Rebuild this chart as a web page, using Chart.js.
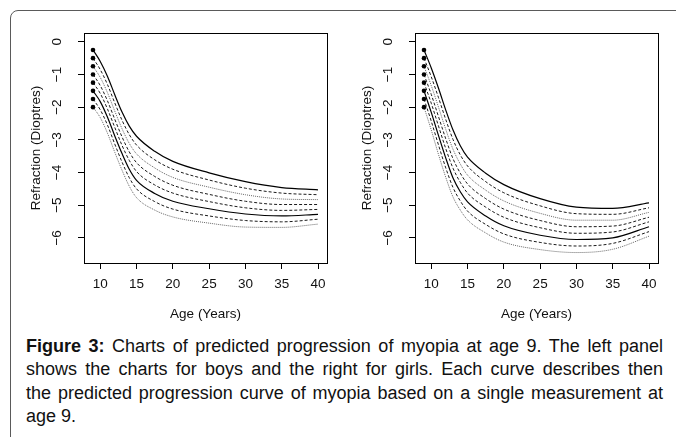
<!DOCTYPE html>
<html>
<head>
<meta charset="utf-8">
<script src="https://cdn.jsdelivr.net/npm/chart.js@4"></script>
<style>
html, body { margin: 0; padding: 0; background: #fff; width: 676px; height: 437px; overflow: hidden; }
#frame { position: absolute; left: 10px; top: 10px; width: 800px; height: 600px; border: 1.5px solid #5a5a5a; border-radius: 8px; }
canvas { position: absolute; top: 0; }
#boysChart { left: 0; }
#girlsChart { left: 331px; }
#caption { position: absolute; left: 26px; top: 335px; width: 637px; color: #111;
  font-family: "Liberation Sans", Arial, sans-serif;
  font-size: 18px; line-height: 23.3px; }
.ln { text-align: justify; text-align-last: justify; }
</style>
</head>
<body>
<div id="frame"></div>
<canvas id="boysChart" width="338" height="335"></canvas>
<canvas id="girlsChart" width="338" height="335"></canvas>
<div id="caption">
  <div class="ln"><b>Figure 3:</b> Charts of predicted progression of myopia at age 9. The left panel</div>
  <div class="ln">shows the charts for boys and the right for girls. Each curve describes then</div>
  <div class="ln">the predicted progression curve of myopia based on a single measurement at</div>
  <div>age 9.</div>
</div>
<script>
const ages = [9, 10, 11, 12, 13, 14, 15, 17.5, 20, 25, 30, 35, 40];
const xTicks = [10, 15, 20, 25, 30, 35, 40];
const yTicks = [0, -1, -2, -3, -4, -5, -6];

// boys, one curve per starting refraction at age 9
const boys025 = [-0.25, -0.60, -1.06, -1.62, -2.15, -2.58, -2.89, -3.35, -3.66, -4.01, -4.28, -4.46, -4.53];
const boys050 = [-0.50, -0.85, -1.31, -1.87, -2.40, -2.84, -3.16, -3.61, -3.90, -4.23, -4.48, -4.63, -4.68];
const boys075 = [-0.75, -1.09, -1.56, -2.12, -2.66, -3.11, -3.43, -3.86, -4.15, -4.45, -4.68, -4.81, -4.83];
const boys100 = [-1.00, -1.34, -1.81, -2.37, -2.91, -3.37, -3.70, -4.12, -4.39, -4.67, -4.88, -4.98, -4.98];
const boys125 = [-1.25, -1.58, -2.06, -2.62, -3.17, -3.63, -3.97, -4.38, -4.63, -4.89, -5.08, -5.16, -5.13];
const boys150 = [-1.50, -1.83, -2.31, -2.88, -3.42, -3.90, -4.24, -4.64, -4.88, -5.11, -5.27, -5.33, -5.28];
const boys175 = [-1.75, -2.08, -2.55, -3.13, -3.68, -4.16, -4.50, -4.89, -5.12, -5.33, -5.47, -5.51, -5.43];
const boys200 = [-2.00, -2.32, -2.80, -3.38, -3.93, -4.42, -4.77, -5.15, -5.36, -5.55, -5.67, -5.68, -5.58];

// girls
const girls025 = [-0.25, -0.80, -1.42, -2.09, -2.70, -3.18, -3.53, -4.02, -4.37, -4.80, -5.06, -5.10, -4.93];
const girls050 = [-0.50, -1.07, -1.71, -2.38, -2.99, -3.46, -3.80, -4.28, -4.62, -5.02, -5.26, -5.28, -5.08];
const girls075 = [-0.75, -1.34, -2.00, -2.68, -3.29, -3.74, -4.08, -4.54, -4.87, -5.25, -5.46, -5.46, -5.22];
const girls100 = [-1.00, -1.61, -2.29, -2.97, -3.58, -4.02, -4.35, -4.80, -5.12, -5.47, -5.66, -5.64, -5.37];
const girls125 = [-1.25, -1.88, -2.58, -3.27, -3.87, -4.30, -4.63, -5.06, -5.37, -5.69, -5.86, -5.82, -5.51];
const girls150 = [-1.50, -2.16, -2.87, -3.56, -4.17, -4.59, -4.90, -5.33, -5.63, -5.92, -6.05, -6.00, -5.66];
const girls175 = [-1.75, -2.43, -3.16, -3.86, -4.46, -4.87, -5.18, -5.59, -5.88, -6.14, -6.25, -6.17, -5.81];
const girls200 = [-2.00, -2.70, -3.45, -4.15, -4.75, -5.15, -5.45, -5.85, -6.13, -6.36, -6.45, -6.35, -5.95];

const lineStyles = ['solid', 'dashed', 'dotted', 'dashed', 'dashed', 'solid', 'dashed', 'dotted'];
const axisFont = { family: 'Liberation Sans', size: 13.5 };

// plot frame like R's box()
const boxPlugin = {
    id: 'box',
    afterDatasetsDraw(chart) {
        const { ctx, chartArea: a } = chart;
        ctx.save();
        ctx.strokeStyle = '#000';
        ctx.lineWidth = 1;
        ctx.strokeRect(Math.round(a.left) + 0.5, Math.round(a.top) + 0.5,
            Math.round(a.right - a.left), Math.round(a.bottom - a.top));
        ctx.restore();
    }
};

function renderPanel(id, curves) {
    const ctx = document.getElementById(id).getContext('2d');

    const datasets = curves.map((vals, i) => {
        const style = lineStyles[i];
        return {
            data: vals.map((v, j) => ({ x: ages[j], y: v })),
            borderColor: style === 'dotted' ? '#666' : (style === 'dashed' ? '#1a1a1a' : '#000'),
            borderWidth: style === 'solid' ? 1.2 : 1,
            borderDash: style === 'dashed' ? [3, 2] : (style === 'dotted' ? [1, 1] : []),
            cubicInterpolationMode: 'monotone',
            pointRadius: c => c.dataIndex === 0 ? 2.3 : 0,
            pointBackgroundColor: '#000',
            pointBorderWidth: 0
        };
    });

    new Chart(ctx, {
        type: 'line',
        data: { datasets: datasets },
        options: {
            responsive: false,
            animation: false,
            layout: { padding: { top: 33, right: 11, left: 0, bottom: 0 } },
            plugins: {
                legend: { display: false },
                tooltip: { enabled: false }
            },
            scales: {
                x: {
                    type: 'linear',
                    min: 7.76,
                    max: 41.24,
                    afterBuildTicks: s => { s.ticks = xTicks.map(v => ({ value: v })); },
                    afterFit: s => { s.height = 72; },
                    grid: { drawOnChartArea: false, drawTicks: true, tickLength: 6, color: '#000', lineWidth: 1 },
                    border: { display: false },
                    ticks: { color: '#111', font: axisFont, padding: 7, maxRotation: 0, autoSkip: false },
                    title: { display: true, text: 'Age (Years)', color: '#111', font: axisFont, padding: { top: 0, bottom: 12.5 } }
                },
                y: {
                    type: 'linear',
                    min: -6.77,
                    max: 0.27,
                    afterBuildTicks: s => { s.ticks = yTicks.map(v => ({ value: v })); },
                    afterFit: s => { s.width = 84; },
                    grid: { drawOnChartArea: false, drawTicks: true, tickLength: 6, color: '#000', lineWidth: 1 },
                    border: { display: false },
                    ticks: {
                        color: '#111', font: axisFont, padding: 13, autoSkip: false,
                        minRotation: 90, maxRotation: 90, crossAlign: 'center',
                        callback: v => String(v).replace('-', '\u2212')
                    },
                    title: { display: true, text: 'Refraction (Dioptres)', color: '#111', font: axisFont, padding: { top: 28, bottom: 0 } }
                }
            }
        },
        plugins: [boxPlugin]
    });
}

renderPanel('boysChart', [boys025, boys050, boys075, boys100, boys125, boys150, boys175, boys200]);
renderPanel('girlsChart', [girls025, girls050, girls075, girls100, girls125, girls150, girls175, girls200]);
</script>
</body>
</html>
